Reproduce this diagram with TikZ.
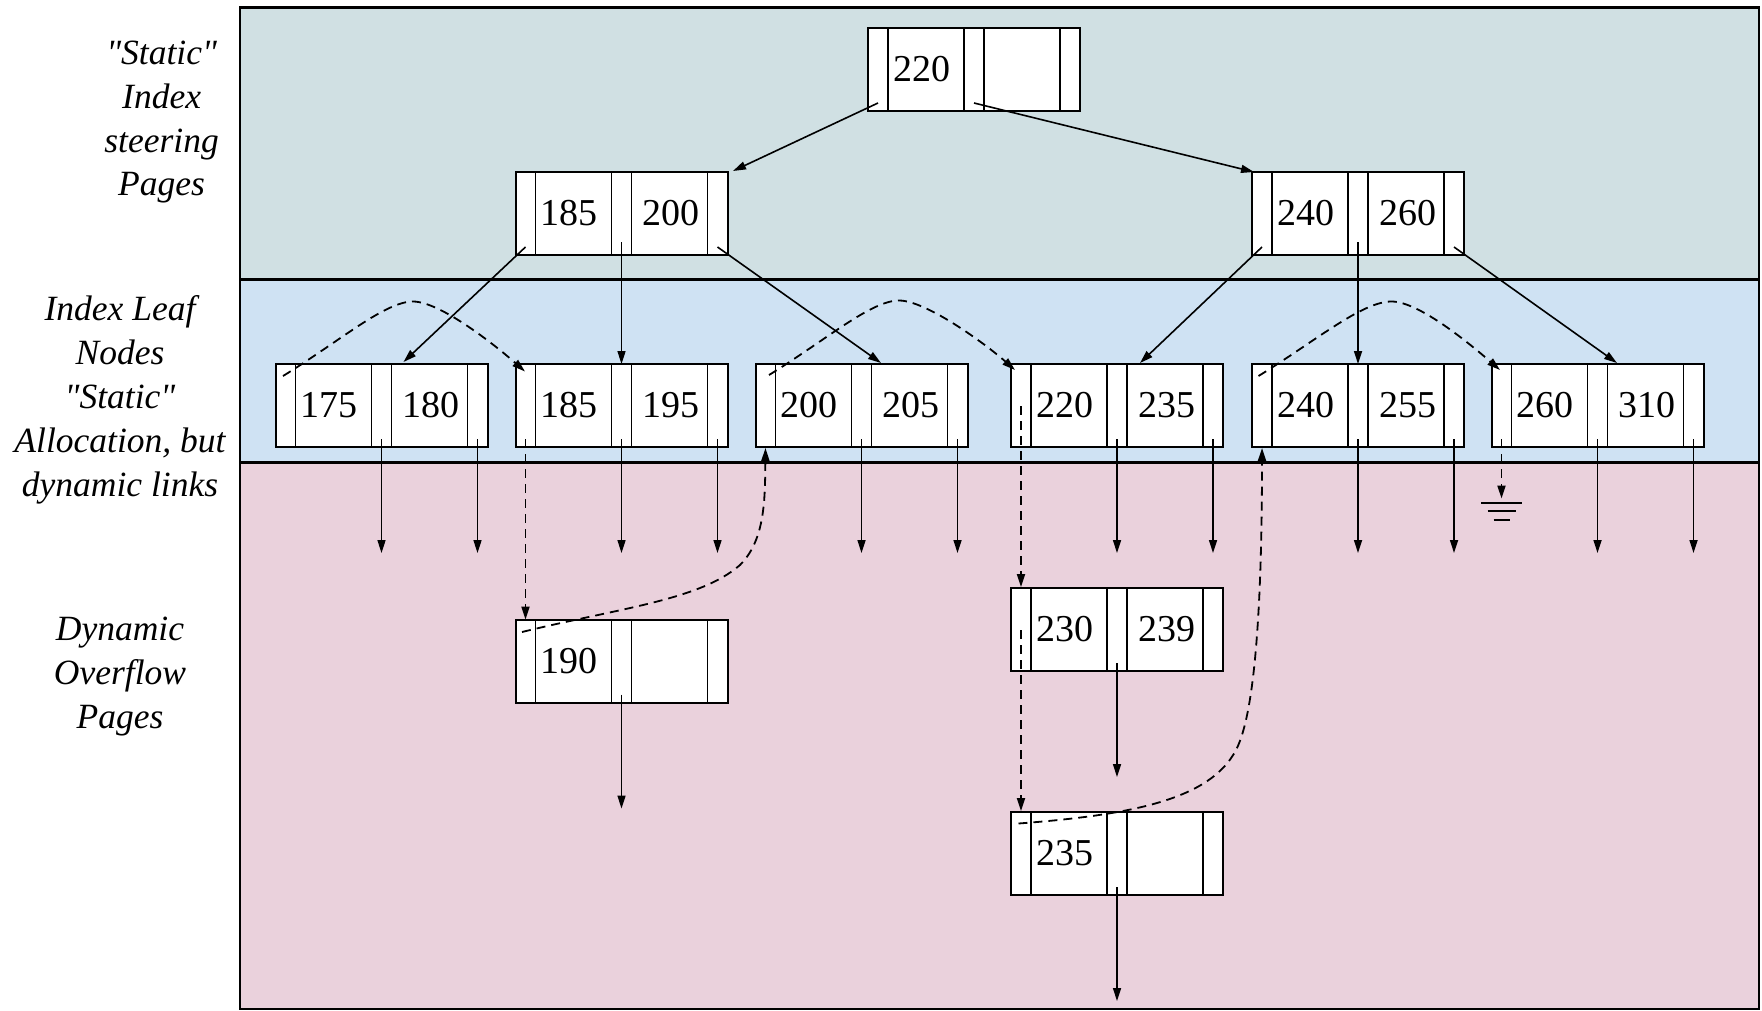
\documentclass[tikz,border=0pt]{standalone}
\usepackage{fontspec}
\setmainfont{Liberation Serif}[Ligatures=TeXOff]
\usetikzlibrary{arrows.meta,calc}
\definecolor{bandA}{HTML}{D0E0E3}
\definecolor{bandB}{HTML}{CFE2F3}
\definecolor{bandC}{HTML}{EAD1DC}
\tikzset{
  rec/.style={draw, line width=2pt, fill=white, minimum width=212pt, minimum height=83pt,
    inner sep=0pt, outer sep=0pt, anchor=north west},
  cellline/.style={line width=1.6pt},
  keytext/.style={anchor=west, inner sep=0pt, font=\fontsize{38}{40}\selectfont},
  lbl/.style={anchor=base, inner sep=0pt, font=\fontsize{35.5}{40}\selectfont\itshape},
  conn/.style={line width=1.6pt, -{Triangle[length=13pt,width=8pt]}},
  dlink/.style={line width=1.8pt, dash pattern=on 9pt off 6pt, -{Triangle[length=13pt,width=8pt]}},
  band/.style={line width=2.6pt},
}
\newcommand\recnode[5]{%
  \node[rec] (#1) at (#2,#3) {};
  \draw[cellline] ($(#1.north west)+(20,0)$) -- ($(#1.south west)+(20,0)$);
  \draw[cellline] ($(#1.north west)+(96,0)$) -- ($(#1.south west)+(96,0)$);
  \draw[cellline] ($(#1.north west)+(116,0)$) -- ($(#1.south west)+(116,0)$);
  \draw[cellline] ($(#1.north west)+(192,0)$) -- ($(#1.south west)+(192,0)$);
  \if\relax\detokenize{#4}\relax\else\node[keytext] (#1-a) at ($(#1.west)+(25,0)$) {#4};\fi
  \if\relax\detokenize{#5}\relax\else\node[keytext] (#1-b) at ($(#1.west)+(127,0)$) {#5};\fi
  \coordinate (#1-p1) at ($(#1.north west)+(10,75)$);
  \coordinate (#1-p2) at ($(#1.north west)+(106,75)$);
  \coordinate (#1-p3) at ($(#1.north west)+(202,75)$);
  \coordinate (#1-q1) at ($(#1.north west)+(10,42)$);
}
\begin{document}
\begin{tikzpicture}[x=1pt,y=-1pt]
\useasboundingbox (0,0) rectangle (1762,1010);
% bands
\fill[bandA] (240,7.5) rectangle (1759,279.3);
\fill[bandB] (240,279.3) rectangle (1759,462.7);
\fill[bandC] (240,462.7) rectangle (1759,1009);
\draw[band] (240,7.5) rectangle (1759,1009);
\draw[band] (240,279.3) -- (1759,279.3);
\draw[band] (240,462.7) -- (1759,462.7);
% labels
\node[lbl] (g1a) at (161.6,64.5) {"Static"};
\node[lbl] (g1b) at (161.6,108.2) {Index};
\node[lbl] (g1c) at (161.6,152) {steering};
\node[lbl] (g1d) at (161.6,195.6) {Pages};
\node[lbl] (g2a) at (120,320) {Index Leaf};
\node[lbl] (g2b) at (120,364) {Nodes};
\node[lbl] (g2c) at (120,408) {"Static"};
\node[lbl] (g2d) at (120,452) {Allocation, but};
\node[lbl] (g2e) at (120,496) {dynamic links};
\node[lbl] (g3a) at (120,640.5) {Dynamic};
\node[lbl] (g3b) at (120,684.5) {Overflow};
\node[lbl] (g3c) at (120,728.5) {Pages};
% record nodes
\recnode{root}{868}{28}{220}{}
\recnode{mL}{515.5}{172}{185}{200}
\recnode{mR}{1252}{172}{240}{260}
\recnode{L1}{275.5}{364}{175}{180}
\recnode{L2}{515.5}{364}{185}{195}
\recnode{L3}{755.5}{364}{200}{205}
\recnode{L4}{1011}{364}{220}{235}
\recnode{L5}{1252}{364}{240}{255}
\recnode{L6}{1491.5}{364}{260}{310}
\recnode{O1}{515.5}{619.5}{190}{}
\recnode{O2}{1011}{588}{230}{239}
\recnode{O3}{1011}{812}{235}{}
% tree pointers
\draw[conn] (root-p1) -- ($(mL.north east)+(5.5,-1)$);
\draw[conn] (root-p2) -- ($(mR.north west)+(2,0)$);
\draw[conn] (mL-p1) -- ($(L1.north west)+(128,-2)$);
\draw[conn] ($(mL-p2)+(0,-5)$) -- (L2-p2 |- L2.north);
\draw[conn] (mL-p3) -- ($(L3.north west)+(125.5,-1)$);
\draw[conn] (mR-p1) -- ($(L4.north west)+(129,-1)$);
\draw[conn] ($(mR-p2)+(0,-5)$) -- (L5-p2 |- L5.north);
\draw[conn] (mR-p3) -- ($(L6.north west)+(125.5,-1)$);
% record pointers downward
\foreach \n in {L1,L2,L3,L4,L5,L6}{
  \draw[conn] (\n-p2) -- ++(0,114);
  \draw[conn] (\n-p3) -- ++(0,114);
}
\foreach \n in {O1,O2,O3}{
  \draw[conn] (\n-p2) -- ++(0,114);
}
% dynamic links
\draw[dlink] ($(L1.north west)+(7.5,12)$) .. controls (340,341) and (385,301.5) .. (413,301.5)
  .. controls (440,301.5) and (495,345) .. ($(L2.north west)+(9.5,7.5)$);
\draw[dlink] ($(L3.north west)+(13.5,11)$) .. controls (826,340) and (871,300.5) .. (899,300.5)
  .. controls (926,300.5) and (985,343.5) .. ($(L4.north west)+(4,6)$);
\draw[dlink] ($(L5.north west)+(6.5,12)$) .. controls (1315.5,341) and (1362,301.5) .. (1391.5,301.5)
  .. controls (1419,301.5) and (1470,344) .. ($(L6.north west)+(8.5,6)$);
\draw[dlink] (L2-p1) -- (L2-p1 |- O1.north);
\draw[dlink] (L4-q1) -- ($(L4-q1 |- O2.north)+(0,-1)$);
\draw[dlink] (O2-q1) -- ($(O2-q1 |- O3.north)+(0,-1)$);
\draw[dlink] ($(O1.north west)+(6.5,12.5)$) .. controls (620,608) and (700,600) .. (740,565)
  .. controls (765,540) and (765,500) .. ($(L3.south west)+(10,1)$);
\draw[dlink] ($(O3.north west)+(7.5,11.5)$) .. controls (1130,815) and (1210,800) .. (1236,750)
  .. controls (1250,723) and (1262,650) .. ($(L5.south west)+(10,1)$);
% null pointer to ground
\coordinate (gnd) at ($(L6.south west)+(10,51.5)$);
\draw[dlink] (L6-p1) -- (gnd);
\draw[line width=2pt] ($(gnd)+(-20.5,4)$) -- ($(gnd)+(20.5,4)$);
\draw[line width=2pt] ($(gnd)+(-14,12.5)$) -- ($(gnd)+(14,12.5)$);
\draw[line width=2pt] ($(gnd)+(-8,21)$) -- ($(gnd)+(8,21)$);
\end{tikzpicture}
\end{document}
